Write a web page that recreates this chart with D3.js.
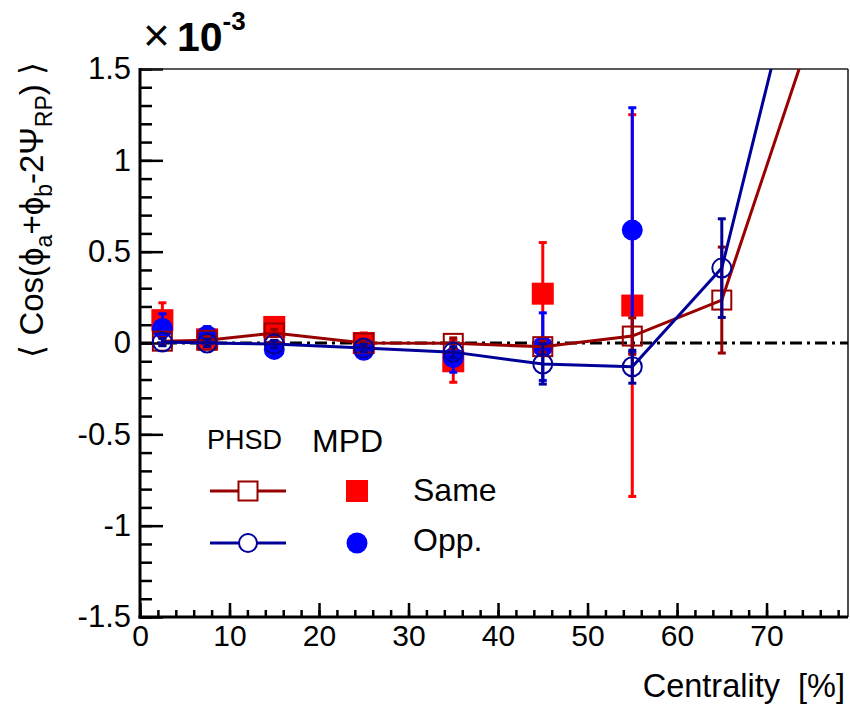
<!DOCTYPE html>
<html>
<head>
<meta charset="utf-8">
<script src="https://cdn.jsdelivr.net/npm/d3@7"></script>
<style>
  body { margin: 0; background: #fff; }
  svg { font-family: "Liberation Sans", Arial, Helvetica, sans-serif; }
</style>
</head>
<body>
<div id="chart"></div>
<script>
// values in units of 1e-3
const mpdCent = [2.5, 7.5, 15, 25, 35, 45, 55];
const mpdSame = [0.125, 0.02, 0.088, 0.0, -0.1, 0.27, 0.205];
const mpdSameErr = [0.095, 0.05, 0.04, 0.055, 0.115, 0.28, 1.045];
const mpdOpp = [0.08, 0.04, -0.035, -0.04, -0.08, -0.02, 0.618];
const mpdOppErr = [0.08, 0.05, 0.04, 0.04, 0.08, 0.185, 0.67];

const phsdCent = [2.5, 7.5, 15, 25, 35, 45, 55, 65, 75];
const phsdSame = [0.01, 0.015, 0.055, 0.0, -0.002, -0.02, 0.038, 0.235, 1.70];
const phsdSameErr = [0.02, 0.02, 0.02, 0.02, 0.03, 0.03, 0.1, 0.29, 0];
const phsdOpp = [0.005, 0.0, -0.006, -0.027, -0.05, -0.115, -0.13, 0.41, 2.39];
const phsdOppErr = [0.02, 0.02, 0.02, 0.02, 0.03, 0.11, 0.09, 0.27, 0];

const xMajor = [0, 10, 20, 30, 40, 50, 60, 70];
const yMajor = [-1.5, -1, -0.5, 0, 0.5, 1, 1.5];
const yLabels = ["-1.5", "-1", "-0.5", "0", "0.5", "1", "1.5"];

let W = 850, H = 704;
let mLeft = 140, mRight = 848, mTop = 69, mBottom = 617;

let svg = d3.select("#chart").append("svg")
    .attr("width", W)
    .attr("height", H);

let x = d3.scaleLinear().domain([0, 79.1]).range([mLeft, mRight]);
let y = d3.scaleLinear().domain([-1.5, 1.5]).range([mBottom, mTop]);

const sameRed = "#ff0000", oppBlue = "#0000ff",
      phsdRed = "#990000", phsdBlue = "#000099";

// axes
let yAxis = d3.axisLeft(y).tickValues(yMajor).tickSize(-23).tickPadding(9)
    .tickFormat((d, i) => yLabels[i]);
let yMinor = d3.axisLeft(y).tickValues(d3.range(-15, 16).map(d => d / 10))
    .tickSize(-12).tickFormat("");
let xAxis = d3.axisBottom(x).tickValues(xMajor).tickSize(-14).tickPadding(8);
let xMinor = d3.axisBottom(x).tickValues(d3.range(0, 80, 2)).tickSize(-7).tickFormat("");

svg.append("g").attr("transform", `translate(${mLeft},0)`).call(yMinor)
    .call(g => g.select(".domain").remove())
    .selectAll("line").attr("stroke-width", 2.5);
svg.append("g").attr("transform", `translate(${mLeft},0)`).call(yAxis)
    .call(g => g.select(".domain").remove())
    .call(g => g.selectAll("line").attr("stroke-width", 2.5))
    .call(g => g.selectAll("text").attr("font-size", 31).attr("fill", "#000")
        .attr("font-family", "Liberation Sans, Arial, sans-serif"));
svg.append("g").attr("transform", `translate(0,${mBottom})`).call(xMinor)
    .call(g => g.select(".domain").remove())
    .selectAll("line").attr("stroke-width", 2.5);
svg.append("g").attr("transform", `translate(0,${mBottom})`).call(xAxis)
    .call(g => g.select(".domain").remove())
    .call(g => g.selectAll("line").attr("stroke-width", 2.5))
    .call(g => g.selectAll("text").attr("font-size", 30).attr("fill", "#000")
        .attr("font-family", "Liberation Sans, Arial, sans-serif"));

// frame
svg.append("line").attr("x1", mLeft).attr("x2", mRight).attr("y1", mTop).attr("y2", mTop)
    .attr("stroke", "#222").attr("stroke-width", 1.6);
svg.append("line").attr("x1", mRight).attr("x2", mRight).attr("y1", mTop).attr("y2", mBottom)
    .attr("stroke", "#222").attr("stroke-width", 1.6);
svg.append("line").attr("x1", mLeft).attr("x2", mLeft).attr("y1", mTop - 1).attr("y2", mBottom + 1.5)
    .attr("stroke", "#000").attr("stroke-width", 3);
svg.append("line").attr("x1", mLeft - 1.5).attr("x2", mRight).attr("y1", mBottom).attr("y2", mBottom)
    .attr("stroke", "#000").attr("stroke-width", 3);

// zero line
svg.append("line")
    .attr("x1", mLeft).attr("x2", mRight)
    .attr("y1", y(0)).attr("y2", y(0))
    .attr("stroke", "#000").attr("stroke-width", 3)
    .attr("stroke-dasharray", "12 5 3 5");

svg.append("clipPath").attr("id", "frame")
    .append("rect").attr("x", mLeft).attr("y", mTop)
    .attr("width", mRight - mLeft).attr("height", mBottom - mTop);

let plot = svg.append("g").attr("clip-path", "url(#frame)");

function errorBars(g, xs, vals, errs, color) {
  let eg = g.append("g");
  xs.forEach((c, i) => {
    if (!errs[i]) return;
    let y1 = y(vals[i] + errs[i]), y2 = y(vals[i] - errs[i]);
    eg.append("line").attr("x1", x(c)).attr("x2", x(c)).attr("y1", y1).attr("y2", y2)
        .attr("stroke", color).attr("stroke-width", 3);
    [y1, y2].forEach(yy => eg.append("line")
        .attr("x1", x(c) - 4).attr("x2", x(c) + 4).attr("y1", yy).attr("y2", yy)
        .attr("stroke", color).attr("stroke-width", 3));
  });
}

// MPD same
errorBars(plot, mpdCent, mpdSame, mpdSameErr, sameRed);
plot.append("g").selectAll("rect").data(mpdCent).join("rect")
    .attr("x", d => x(d) - 11).attr("y", (d, i) => y(mpdSame[i]) - 11)
    .attr("width", 22).attr("height", 22).attr("fill", sameRed);

// MPD opp
errorBars(plot, mpdCent, mpdOpp, mpdOppErr, oppBlue);
plot.append("g").selectAll("circle").data(mpdCent).join("circle")
    .attr("cx", d => x(d)).attr("cy", (d, i) => y(mpdOpp[i]))
    .attr("r", 10.5).attr("fill", oppBlue);

// PHSD same
let lineSame = d3.line().x(d => x(d)).y((d, i) => y(phsdSame[i]));
errorBars(plot, phsdCent, phsdSame, phsdSameErr, phsdRed);
plot.append("path").datum(phsdCent).attr("d", lineSame)
    .attr("fill", "none").attr("stroke", phsdRed).attr("stroke-width", 3);
plot.append("g").selectAll("rect").data(phsdCent).join("rect")
    .attr("x", d => x(d) - 9.5).attr("y", (d, i) => y(phsdSame[i]) - 9.5)
    .attr("width", 19).attr("height", 19)
    .attr("fill", "none").attr("stroke", phsdRed).attr("stroke-width", 2);

// PHSD opp
let lineOpp = d3.line().x(d => x(d)).y((d, i) => y(phsdOpp[i]));
errorBars(plot, phsdCent, phsdOpp, phsdOppErr, phsdBlue);
plot.append("path").datum(phsdCent).attr("d", lineOpp)
    .attr("fill", "none").attr("stroke", phsdBlue).attr("stroke-width", 3);
plot.append("g").selectAll("circle").data(phsdCent).join("circle")
    .attr("cx", d => x(d)).attr("cy", (d, i) => y(phsdOpp[i]))
    .attr("r", 9.5)
    .attr("fill", "none").attr("stroke", phsdBlue).attr("stroke-width", 2);

// exponent
let expo = svg.append("text").attr("x", 143).attr("y", 51).attr("fill", "#000");
expo.append("tspan").attr("font-size", 46).text("\u00d7");
expo.append("tspan").attr("font-size", 41).attr("font-weight", "bold").attr("dx", 7).text("10");
expo.append("tspan").attr("font-size", 26).attr("font-weight", "bold").attr("dy", -21).text("-3");

// y title
let yt = svg.append("text")
    .attr("transform", "translate(43,62) rotate(-90)")
    .attr("text-anchor", "end")
    .attr("font-size", 33)
    .attr("fill", "#000");
yt.append("tspan").text("\u27e8 Cos(\u03d5");
yt.append("tspan").attr("font-size", 23).attr("dy", 9).text("a");
yt.append("tspan").attr("dy", -9).text("+\u03d5");
yt.append("tspan").attr("font-size", 23).attr("dy", 9).text("b");
yt.append("tspan").attr("dy", -9).text("-2\u03a8");
yt.append("tspan").attr("font-size", 23).attr("dy", 9).text("RP");
yt.append("tspan").attr("dy", -9).text(") \u27e9");

// x title
svg.append("text").attr("x", 845).attr("y", 697)
    .attr("text-anchor", "end").attr("font-size", 32.5).attr("fill", "#000")
    .text("Centrality\u00a0\u00a0[%]");

// legend
svg.append("text").attr("x", 207).attr("y", 449).attr("font-size", 27).text("PHSD");
svg.append("text").attr("x", 312).attr("y", 452).attr("font-size", 32).text("MPD");
svg.append("text").attr("x", 413).attr("y", 501).attr("font-size", 32).text("Same");
svg.append("text").attr("x", 413).attr("y", 551).attr("font-size", 32).text("Opp.");

svg.append("line").attr("x1", 210).attr("x2", 286).attr("y1", 491).attr("y2", 491)
    .attr("stroke", phsdRed).attr("stroke-width", 3);
svg.append("rect").attr("x", 238.5).attr("y", 481.5).attr("width", 19).attr("height", 19)
    .attr("fill", "#fff").attr("stroke", phsdRed).attr("stroke-width", 2);
svg.append("line").attr("x1", 210).attr("x2", 286).attr("y1", 543).attr("y2", 543)
    .attr("stroke", phsdBlue).attr("stroke-width", 3);
svg.append("circle").attr("cx", 248).attr("cy", 543).attr("r", 9)
    .attr("fill", "#fff").attr("stroke", phsdBlue).attr("stroke-width", 2);
svg.append("rect").attr("x", 346).attr("y", 480).attr("width", 22).attr("height", 22)
    .attr("fill", sameRed);
svg.append("circle").attr("cx", 357).attr("cy", 543).attr("r", 10.5).attr("fill", oppBlue);
</script>
</body>
</html>
